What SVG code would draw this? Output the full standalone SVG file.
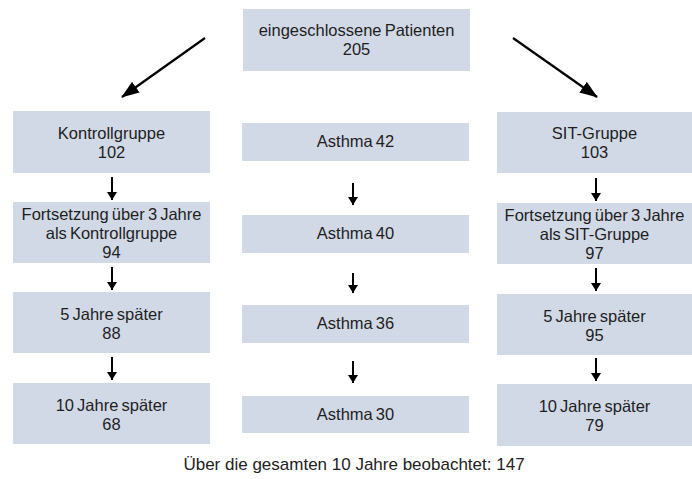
<svg xmlns="http://www.w3.org/2000/svg" width="692" height="479" viewBox="0 0 692 479">
  <defs>
    <marker id="bigHead" viewBox="0 0 18 13" refX="17" refY="6.5" markerWidth="18" markerHeight="13" markerUnits="userSpaceOnUse" orient="auto">
      <path d="M0,0 L18,6.5 L0,13 z" fill="#000"/>
    </marker>
    <marker id="smallHead" viewBox="0 0 8 10" refX="8" refY="5" markerWidth="8" markerHeight="10" markerUnits="userSpaceOnUse" orient="auto">
      <path d="M0,0 L8,5 L0,10 z" fill="#000"/>
    </marker>
    <style>
      .box { fill: #d2d9e6; }
      .t { font-family: "Liberation Sans", Arial, sans-serif; font-size: 16.5px; fill: #1e1e1e; text-anchor: middle; word-spacing: -1.5px; }
      .big { stroke: #000; stroke-width: 2.2; fill: none; marker-end: url(#bigHead); }
      .small { stroke: #000; stroke-width: 2; fill: none; marker-end: url(#smallHead); }
    </style>
  </defs>
  <rect width="692" height="479" fill="#fff"/>

  <g id="top">
    <rect class="box" x="243" y="9" width="227" height="62"/>
    <text class="t" x="356.5" y="36">eingeschlossene Patienten</text>
    <text class="t" x="356.5" y="55">205</text>
  </g>

  <g id="kontroll">
    <rect class="box" x="13" y="111" width="197" height="62"/>
    <text class="t" x="111.5" y="138.5">Kontrollgruppe</text>
    <text class="t" x="111.5" y="157.5">102</text>
  </g>
  <g id="kontroll3">
    <rect class="box" x="13" y="202" width="197" height="61"/>
    <text class="t" x="111.5" y="219.5">Fortsetzung über 3 Jahre</text>
    <text class="t" x="111.5" y="238.5">als Kontrollgruppe</text>
    <text class="t" x="111.5" y="257.5">94</text>
  </g>
  <g id="kontroll5">
    <rect class="box" x="13" y="292" width="197" height="61"/>
    <text class="t" x="111.5" y="319.5">5 Jahre später</text>
    <text class="t" x="111.5" y="338.5">88</text>
  </g>
  <g id="kontroll10">
    <rect class="box" x="13" y="383" width="197" height="61"/>
    <text class="t" x="111.5" y="410.5">10 Jahre später</text>
    <text class="t" x="111.5" y="429.5">68</text>
  </g>

  <g id="asthma42">
    <rect class="box" x="242" y="123" width="227" height="38"/>
    <text class="t" x="355.5" y="147">Asthma 42</text>
  </g>
  <g id="asthma40">
    <rect class="box" x="242" y="215" width="227" height="38"/>
    <text class="t" x="355.5" y="239">Asthma 40</text>
  </g>
  <g id="asthma36">
    <rect class="box" x="242" y="305" width="227" height="38"/>
    <text class="t" x="355.5" y="329">Asthma 36</text>
  </g>
  <g id="asthma30">
    <rect class="box" x="242" y="396" width="227" height="37"/>
    <text class="t" x="355.5" y="419.5">Asthma 30</text>
  </g>

  <g id="sit">
    <rect class="box" x="497" y="112" width="195" height="61"/>
    <text class="t" x="594.5" y="139">SIT-Gruppe</text>
    <text class="t" x="594.5" y="158">103</text>
  </g>
  <g id="sit3">
    <rect class="box" x="497" y="203" width="195" height="61"/>
    <text class="t" x="594.5" y="220.5">Fortsetzung über 3 Jahre</text>
    <text class="t" x="594.5" y="239.5">als SIT-Gruppe</text>
    <text class="t" x="594.5" y="258.5">97</text>
  </g>
  <g id="sit5">
    <rect class="box" x="497" y="294" width="195" height="61"/>
    <text class="t" x="594.5" y="321.5">5 Jahre später</text>
    <text class="t" x="594.5" y="340.5">95</text>
  </g>
  <g id="sit10">
    <rect class="box" x="497" y="384" width="195" height="62"/>
    <text class="t" x="594.5" y="411.5">10 Jahre später</text>
    <text class="t" x="594.5" y="430.5">79</text>
  </g>

  <g id="connectors">
    <line class="big" x1="205" y1="38" x2="122" y2="97"/>
    <line class="big" x1="513" y1="38" x2="597" y2="97"/>
    <line class="small" x1="112" y1="177" x2="112" y2="200"/>
    <line class="small" x1="112" y1="267" x2="112" y2="290"/>
    <line class="small" x1="112" y1="357" x2="112" y2="380"/>
    <line class="small" x1="353" y1="183" x2="353" y2="205"/>
    <line class="small" x1="353" y1="273" x2="353" y2="293"/>
    <line class="small" x1="353" y1="361" x2="353" y2="383"/>
    <line class="small" x1="596" y1="178" x2="596" y2="201"/>
    <line class="small" x1="596" y1="268" x2="596" y2="291"/>
    <line class="small" x1="596" y1="358" x2="596" y2="381"/>
  </g>

  <text id="summary" x="354" y="470" style="font-family:'Liberation Sans', Arial, sans-serif;font-size:17px;fill:#222;text-anchor:middle;">Über die gesamten 10 Jahre beobachtet: 147</text>
</svg>
